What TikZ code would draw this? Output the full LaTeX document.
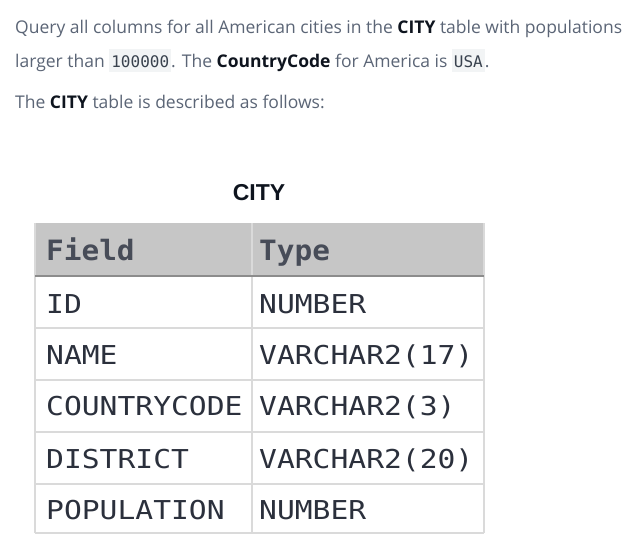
\documentclass[tikz,border=0pt]{standalone}
\usepackage{fontspec}
\setmainfont{Open Sans}
\newfontfamily\tabmono[FakeStretch=1.14]{DejaVu Sans Mono}
\newfontfamily\headmono[FakeStretch=1.05]{DejaVu Sans Mono}
\newfontfamily\codemono{DejaVu Sans Mono}
\newfontfamily\titlefont{Liberation Sans}
\definecolor{bodytext}{HTML}{5B6576}
\definecolor{strongtext}{HTML}{0E141E}
\definecolor{codebg}{HTML}{F2F4F5}
\definecolor{codetext}{HTML}{39424E}
\definecolor{headfill}{HTML}{C6C6C6}
\definecolor{headtext}{HTML}{474C58}
\definecolor{celltext}{HTML}{2B303C}
\definecolor{gridline}{HTML}{DADADA}
\definecolor{headline}{HTML}{8C8C8C}
\newcommand{\codebox}[1]{{\setlength{\fboxsep}{0pt}\colorbox{codebg}{\rule[-5pt]{0pt}{23pt}\hspace{2pt}{\codemono\fontsize{16}{16}\selectfont\color{codetext}#1}\hspace{2pt}}}}
\newcommand{\strongw}[1]{{\bfseries\color{strongtext}#1}}
\tikzset{
  para/.style={anchor=base west, inner sep=0pt, text=bodytext, font=\fontsize{17.5}{20}\selectfont},
  cell/.style={anchor=base west, inner sep=0pt, text=celltext, font=\tabmono\fontsize{26}{26}\selectfont},
  headcell/.style={anchor=base west, inner sep=0pt, text=headtext, font=\headmono\bfseries\fontsize{28}{28}\selectfont},
  title/.style={anchor=base, inner sep=0pt, text=strongtext, font=\titlefont\bfseries\fontsize{23}{23}\selectfont},
  grid/.style={draw=gridline, line width=1.5pt},
}
\begin{document}
\begin{tikzpicture}[x=1pt,y=-1pt]
\useasboundingbox[fill=white] (0,0) rectangle (638,558);
% paragraph text
\node[para] (l1) at (15,33) {Query all columns for all American cities in the \strongw{CITY} table with populations};
\node[para] (l2) at (15,67) {larger than \codebox{100000}. The \strongw{CountryCode} for America is \codebox{USA}.};
\node[para] (l3) at (15,108) {The \strongw{CITY} table is described as follows:};
% title
\node[title] (ttl) at (259,200) {CITY};
% table background and grid
\fill[headfill] (35,223) rectangle (484,276);
\draw[grid] (35,223) -- (35,533) (484,223) -- (484,533) (252,223) -- (252,533);
\draw[grid] (35,328) -- (484,328) (35,380) -- (484,380) (35,432) -- (484,432) (35,484) -- (484,484) (35,533) -- (484,533);
\draw[draw=headline, line width=2.5pt] (35,276) -- (484,276);
% header
\node[headcell] (hf) at (46,260) {Field};
\node[headcell] (ht) at (259,260) {Type};
% rows
\node[cell] (f1) at (46,313) {ID};
\node[cell] (t1) at (259,313) {NUMBER};
\node[cell] (f2) at (46,364) {NAME};
\node[cell] (t2) at (259,364) {VARCHAR2(17)};
\node[cell] (f3) at (46,415) {COUNTRYCODE};
\node[cell] (t3) at (259,415) {VARCHAR2(3)};
\node[cell] (f4) at (46,468) {DISTRICT};
\node[cell] (t4) at (259,468) {VARCHAR2(20)};
\node[cell] (f5) at (46,519) {POPULATION};
\node[cell] (t5) at (259,519) {NUMBER};
\end{tikzpicture}
\end{document}
